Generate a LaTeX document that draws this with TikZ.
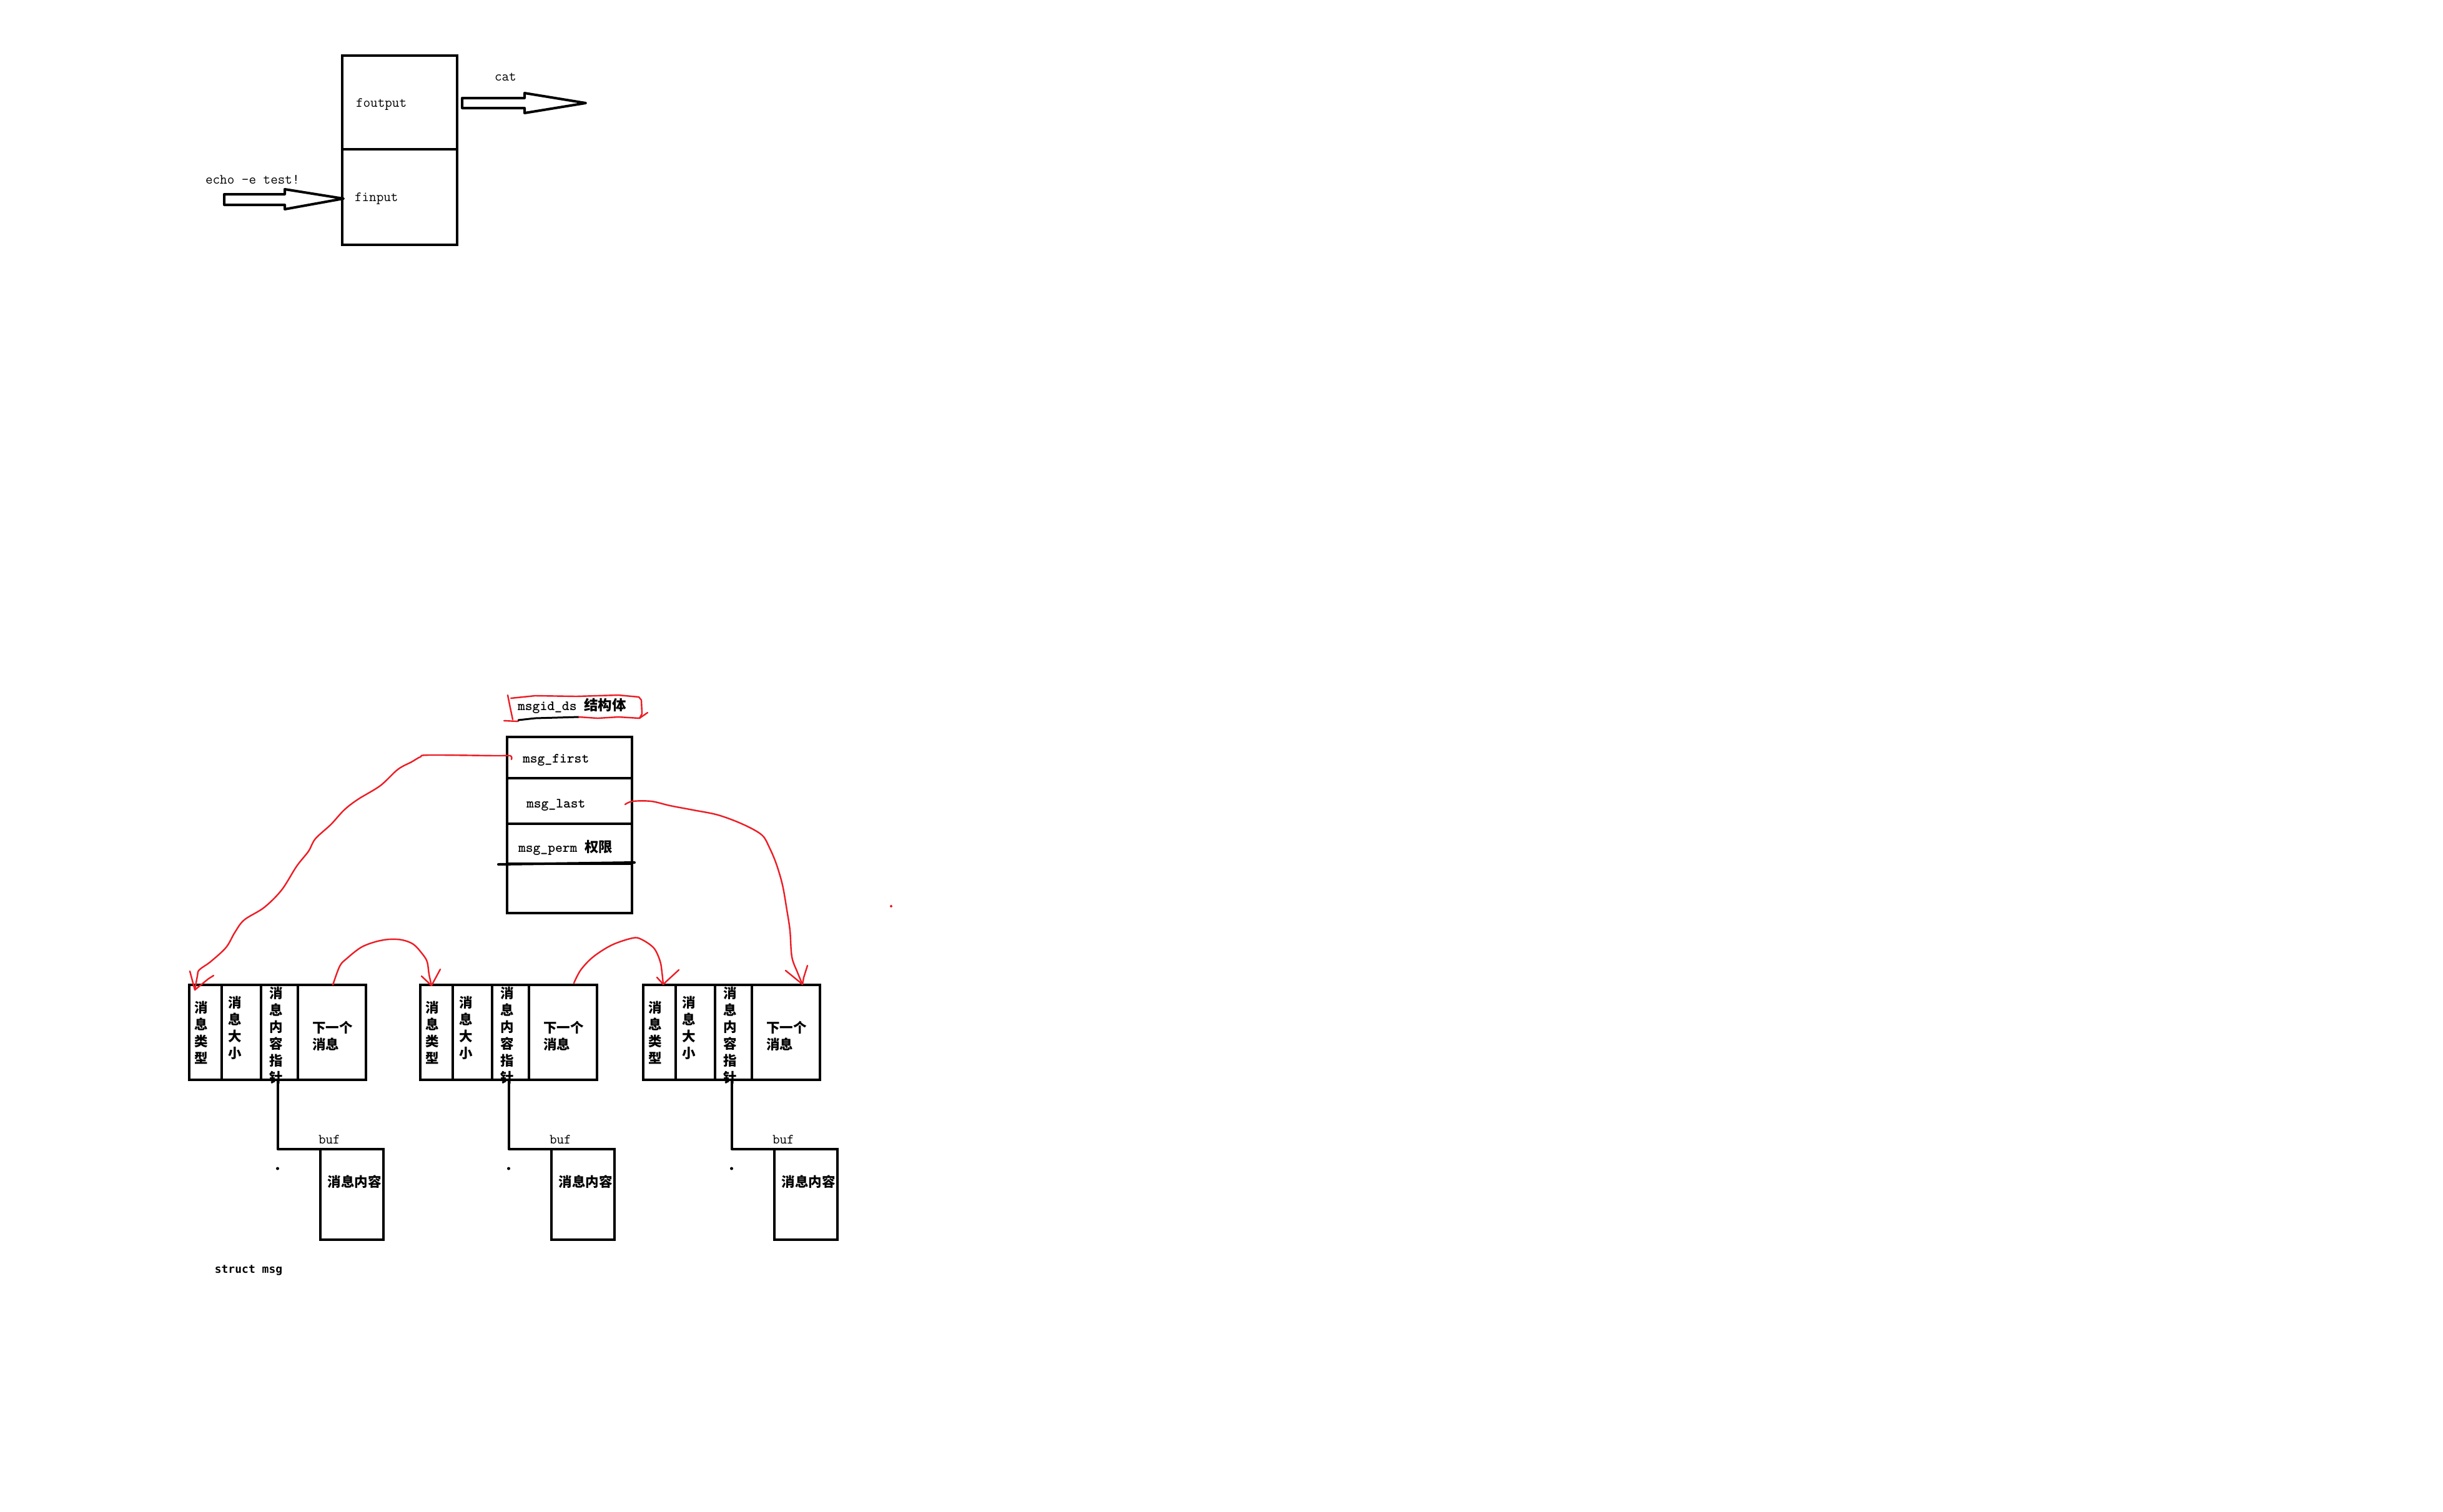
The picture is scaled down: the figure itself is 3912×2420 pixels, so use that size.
\documentclass[tikz,border=0pt]{standalone}
\usepackage{fontspec}
\newfontfamily\cjk{Noto Sans CJK SC}
\newfontfamily\sansmono{DejaVu Sans Mono}
\usetikzlibrary{calc}
\definecolor{redink}{RGB}{237,28,36}
\tikzset{
  box/.style={draw, line width=4pt, inner sep=0pt, outer sep=0pt, anchor=north west},
  ink/.style={line width=4pt, line cap=round, line join=round},
  fat/.style={draw, line width=4pt, line join=round, fill=white},
  redl/.style={draw=redink, line width=2.4pt, line cap=round, line join=round},
  lab/.style={font=\ttfamily\fontsize{22.5}{27}\selectfont, inner sep=0pt, outer sep=0pt},
  blab/.style={font=\ttfamily\bfseries\fontsize{22.5}{27}\selectfont, inner sep=0pt, outer sep=0pt},
  zh/.style={font=\cjk\bfseries\fontsize{21.5}{27}\selectfont, inner sep=0pt, outer sep=0pt},
}
\begin{document}
\begin{tikzpicture}[x=1pt,y=-1pt]
\fill[white] (0,0) rectangle (3912,2420);
\useasboundingbox (0,0) rectangle (3912,2420);

% ---------- pipe picture ----------
\node[box, minimum width=184pt, minimum height=150pt] (fout) at (548,89) {};
\node[box, minimum width=184pt, minimum height=153pt] (fin) at (548,239) {};
\node[lab, anchor=west] (tfout) at (570,167) {foutput};
\node[lab, anchor=west] (tfin) at (568,318) {finput};
\node[lab, anchor=west] (tcat) at (792,123) {cat};
\node[lab, anchor=west] (techo) at (329,288) {echo -e test!};

\coordinate (catTail) at ($(fout.east)+(8,0)$);
\coordinate (catTip) at (938,165);
\draw[fat] (catTail) ++(0,-7) -- ++(100,0) -- ++(0,-8) -- (catTip) -- ++(-98,16) -- ++(0,-8) -- ++(-100,0) -- cycle;
\coordinate (echoTip) at ($(fin.west)+(2,2.5)$);
\draw[fat] (echoTip) -- ++(-94,17) -- ++(0,-7) -- ++(-97,0) -- ++(0,-17) -- ++(97,0) -- ++(0,-8) -- cycle;

% ---------- msgid_ds ----------
\node[blab] (title) at (916,1130) {msgid\_ds {\cjk 结构体}};
\draw[redl] (813,1113) -- (817,1133) -- (821,1152);
\draw[redl] (818,1118) -- (857,1114) -- (923,1115) -- (990,1113) -- (1023,1116) -- (1027,1121) -- (1028,1143) -- (1024,1150);
\draw[redl] (807,1154) -- (830,1155);
\draw[ink, line width=3pt] (830,1153) -- (857,1150) -- (927,1148);
\draw[redl] (927,1148) -- (957,1150) -- (990,1148) -- (1024,1150) -- (1037,1141);

\node[box, minimum width=200pt, minimum height=66pt] (mfirst) at (812,1180) {};
\node[box, minimum width=200pt, minimum height=73pt] (mlast) at (812,1246) {};
\node[box, minimum width=200pt, minimum height=64pt] (mperm) at (812,1319) {};
\node[box, minimum width=200pt, minimum height=79pt] (mempty) at (812,1383) {};
\draw[ink] ($(mperm.south west)+(-14,1)$) -- ($(mperm.south east)+(4,-2)$);
\node[blab, anchor=west] (tfirst) at (837,1217) {msg\_first};
\node[blab, anchor=west] (tlast) at (843,1289) {msg\_last};
\node[blab, anchor=west] (tperm) at (830,1357) {msg\_perm {\cjk 权限}};

% ---------- struct msg nodes ----------
\foreach \i/\L in {1/303,2/673,3/1030}{
  \node[box, minimum width=52pt, minimum height=152pt] (ta\i) at (\L,1577) {};
  \node[box, minimum width=63pt, minimum height=152pt] (tb\i) at (ta\i.north east) {};
  \node[box, minimum width=59pt, minimum height=152pt] (tc\i) at (tb\i.north east) {};
  \node[box, minimum width=109pt, minimum height=152pt] (td\i) at (tc\i.north east) {};
  \node[zh, align=center] (xa\i) at (\L+19,1653) {消\\息\\类\\型};
  \node[zh, align=center] (xb\i) at (\L+73,1646) {消\\息\\大\\小};
  \node[zh, align=center] (xc\i) at (\L+139,1658) {消\\息\\内\\容\\指\\针};
  \node[zh, align=left, anchor=west] (xd\i) at (\L+197,1659) {下一个\\消息};
  \node[box, minimum width=101pt, minimum height=145pt] (buf\i) at (\L+210,1840) {};
  \draw[ink] ($(tc\i.south)+(-3,0)$) |- (buf\i.north west);
  \fill ($(tc\i.south)+(-3,142)$) circle[radius=2.5pt];
  \node[lab, anchor=base west] (bl\i) at ($(buf\i.north west)+(-3,-9)$) {buf};
  \node[zh] (bc\i) at ($(buf\i.north)+(4,52)$) {消息内容};
}
\node[font=\sansmono\bfseries\fontsize{18}{22}\selectfont, inner sep=0pt] (smsg) at (398,2034) {struct msg};

% ---------- red pointers ----------
\coordinate (f1s) at ($(mfirst.west)+(7,3)$);
\coordinate (f1e) at ($(ta1.north)+(-17,8)$);
\draw[redl] plot[smooth, tension=0.55] coordinates {(f1s) (817,1210) (794,1210) (687,1209) (673,1212) (659,1220) (637,1232) (609,1258) (573,1280) (551,1297) (530,1320) (505,1343) (494,1363) (475,1387) (451,1425) (423,1453) (391,1473) (376,1493) (362,1517) (337,1540) (319,1553) (316,1563) (f1e)};
\draw[redl] ($(f1e)+(-8,-30)$) -- (f1e) -- ($(f1e)+(22,-18)$) -- ($(f1e)+(30,-23)$);

\coordinate (f2s) at ($(td1.north)+(1.5,0)$);
\coordinate (f2e) at ($(ta2.north)+(-8,1)$);
\draw[redl] plot[smooth, tension=0.55] coordinates {(f2s) (544,1547) (555,1535) (578,1517) (601,1508) (623,1504) (644,1505) (662,1512) (676,1527) (684,1540) (687,1560) (f2e)};
\draw[redl] ($(f2e)+(-16,-15)$) -- (f2e) -- ($(f2e)+(14,-26)$);

\coordinate (f3s) at ($(td2.north)+(17.5,-3)$);
\coordinate (f3e) at ($(ta3.north)+(6,-1)$);
\draw[redl] plot[smooth, tension=0.55] coordinates {(f3s) (930,1553) (950,1532) (980,1513) (1013,1502) (1027,1504) (1047,1518) (1057,1539) (1060,1557) (f3e)};
\draw[redl] ($(f3e)+(-10,-11)$) -- (f3e) -- ($(f3e)+(25,-23)$);

\coordinate (f4s) at ($(mlast.east)+(-11,5.5)$);
\coordinate (f4e) at ($(td3.north)+(26.5,-1)$);
\draw[redl] plot[smooth, tension=0.55] coordinates {(f4s) (1013,1283) (1043,1283) (1073,1290) (1110,1297) (1150,1305) (1190,1320) (1220,1337) (1232,1357) (1243,1383) (1253,1417) (1260,1457) (1265,1490) (1268,1532) (1277,1557) (f4e)};
\draw[redl] ($(f4e)+(-27,-22)$) -- (f4e) -- ($(f4e)+(2,-11)$) -- ($(f4e)+(8,-30)$);

% tiny stray mark
\draw[redink, line width=1.3pt] (1425,1451) -- (1429,1451) (1427,1449) -- (1427,1453);
\end{tikzpicture}
\end{document}
